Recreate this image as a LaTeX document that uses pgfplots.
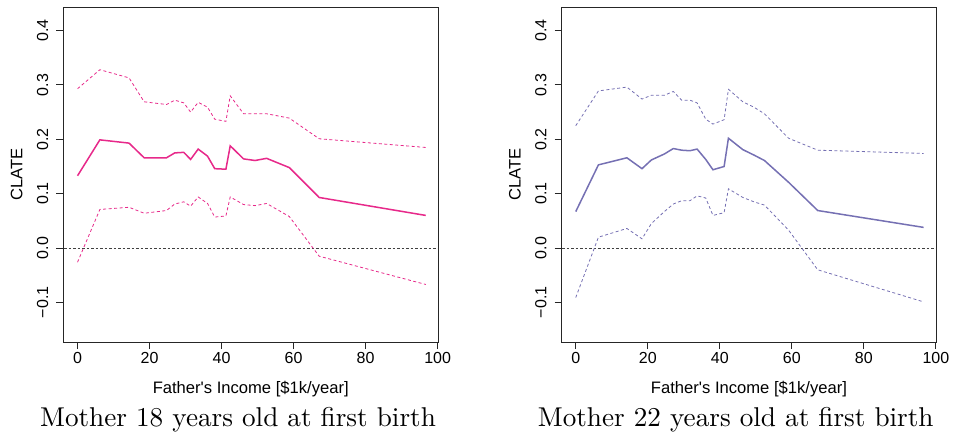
\documentclass[border=0pt]{standalone}
\usepackage{pgfplots}
\pgfplotsset{compat=1.18}
\usepackage{pgfplotstable}
\usepackage{fontspec}
\newfontfamily\helv{Liberation Sans}
\definecolor{pinkline}{HTML}{E7298A}
\definecolor{purpline}{HTML}{7570B3}

% Father's income (x), CLATE estimate, lower and upper band
\pgfplotstableread{
x    est    lo     hi
0    0.133 -0.026  0.293
6.2  0.199  0.071  0.328
14.3 0.193  0.075  0.313
18.5 0.166  0.064  0.269
24.7 0.166  0.069  0.264
27.0 0.175  0.081  0.272
29.5 0.176  0.085  0.267
31.4 0.163  0.077  0.250
33.5 0.182  0.094  0.268
36.1 0.169  0.082  0.259
38.1 0.146  0.057  0.237
41.2 0.145  0.059  0.233
42.4 0.188  0.094  0.280
46.1 0.164  0.080  0.247
49.3 0.161  0.078  0.247
52.5 0.165  0.082  0.247
58.8 0.148  0.058  0.239
67.1 0.093 -0.015  0.201
96.7 0.060 -0.067  0.185
}\motherEighteen

\pgfplotstableread{
x    est    lo     hi
0    0.067 -0.091  0.225
6.3  0.153  0.020  0.289
14.2 0.166  0.036  0.296
18.4 0.146  0.017  0.274
21.0 0.162  0.045  0.281
24.6 0.173  0.067  0.281
27.1 0.183  0.081  0.288
29.4 0.180  0.087  0.272
31.7 0.179  0.087  0.272
33.7 0.182  0.096  0.267
36.1 0.163  0.092  0.237
38.1 0.144  0.060  0.228
41.2 0.150  0.065  0.236
42.4 0.202  0.109  0.292
46.4 0.181  0.093  0.269
49.5 0.171  0.085  0.259
52.4 0.161  0.079  0.247
59.1 0.121  0.033  0.202
67.2 0.069 -0.040  0.180
96.6 0.038 -0.099  0.174
}\motherTwentyTwo

\pgfplotsset{
  rpanel/.style={
    anchor=south west, scale only axis,
    width=374.5pt, height=334.7pt,
    xmin=-3.9, xmax=100.1, ymin=-0.1728, ymax=0.4428,
    axis line style={black!85, line width=0.9pt},
    tick style={black!85, line width=0.9pt},
    tick align=outside, major tick length=7pt,
    xtick pos=bottom, ytick pos=left,
    xtick={0,20,40,60,80,100},
    xticklabels={0,20,40,60,80,100},
    ytick={-0.1,0,0.1,0.2,0.3,0.4},
    yticklabels={−0.1,0.0,0.1,0.2,0.3,0.4},
    ticklabel style={font=\fontsize{16}{19}\helv, inner sep=0pt},
    xticklabel style={anchor=north},
    xticklabel shift=3pt,
    yticklabel style={rotate=90, anchor=south},
    yticklabel shift=8pt,
    label style={font=\fontsize{16.6}{19}\helv},
    xlabel={Father's Income [\$1k/year]},
    xlabel style={at={(axis description cs:0.5,-0.1533)}, anchor=base},
    ylabel={CLATE},
    ylabel style={at={(axis description cs:-0.125,0.5)}, rotate=0, anchor=center},
  },
  est/.style={line width=1.5pt},
  band/.style={line width=0.8pt, dash pattern=on 3pt off 2.5pt},
  zero/.style={black!75, line width=1pt, dash pattern=on 2.5pt off 2pt},
}

\begin{document}
\begin{tikzpicture}
\path[use as bounding box] (0,0) rectangle (956pt,434pt);

\begin{axis}[rpanel, at={(63.5pt,92pt)}]
  \addplot[zero] coordinates {(-10,0) (110,0)};
  \addplot[pinkline, band] table[x=x, y=hi] {\motherEighteen};
  \addplot[pinkline, band] table[x=x, y=lo] {\motherEighteen};
  \addplot[pinkline, est] table[x=x, y=est] {\motherEighteen};
\end{axis}

\begin{axis}[rpanel, at={(561.7pt,92pt)}]
  \addplot[zero] coordinates {(-10,0) (110,0)};
  \addplot[purpline, band] table[x=x, y=hi] {\motherTwentyTwo};
  \addplot[purpline, band] table[x=x, y=lo] {\motherTwentyTwo};
  \addplot[purpline, est] table[x=x, y=est] {\motherTwentyTwo};
\end{axis}

\node[anchor=base, inner sep=0pt] at (238pt,7.3pt)
  {\scalebox{2.72}{\normalsize Mother 18 years old at first birth}};
\node[anchor=base, inner sep=0pt] at (735.7pt,7.3pt)
  {\scalebox{2.72}{\normalsize Mother 22 years old at first birth}};
\end{tikzpicture}
\end{document}
